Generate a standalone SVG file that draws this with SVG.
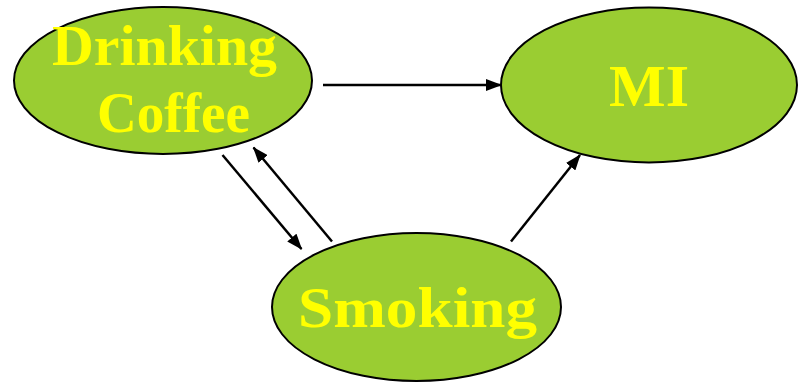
<svg xmlns="http://www.w3.org/2000/svg" width="798" height="383" viewBox="0 0 798 383">
<style>
.node ellipse{fill:#9ACD32;stroke:#000;stroke-width:2}
.node text{fill:#FFFF00;font-family:"Liberation Serif",serif;font-weight:bold;text-anchor:middle}
.edge{stroke:#000;stroke-width:2.5;fill:none;marker-end:url(#ah)}
</style>
<defs>
<marker id="ah" markerWidth="16" markerHeight="12" refX="15" refY="6" orient="auto" markerUnits="userSpaceOnUse">
<path d="M0,0 L16,6 L0,12 Z" fill="#000"/>
</marker>
</defs>
<rect width="798" height="383" fill="#fff"/>
<g id="coffee" class="node">
<ellipse cx="163" cy="80.5" rx="149" ry="73.5"/>
<text x="164.5" y="65" font-size="56" textLength="225" lengthAdjust="spacingAndGlyphs">Drinking</text>
<text x="173.5" y="132" font-size="56" textLength="153" lengthAdjust="spacingAndGlyphs">Coffee</text>
</g>
<g id="mi" class="node">
<ellipse cx="649" cy="85" rx="148" ry="77.5"/>
<text x="649" y="106" font-size="60" textLength="80" lengthAdjust="spacingAndGlyphs">MI</text>
</g>
<g id="smoking" class="node">
<ellipse cx="416.5" cy="307" rx="144.5" ry="74"/>
<text x="417.5" y="327" font-size="58" textLength="239" lengthAdjust="spacingAndGlyphs">Smoking</text>
</g>
<g id="connectors">
<line class="edge" x1="323" y1="85" x2="501" y2="85"/>
<line class="edge" x1="222.5" y1="155" x2="301.5" y2="249"/>
<line class="edge" x1="332" y1="241.5" x2="253.5" y2="147.5"/>
<line class="edge" x1="511" y1="241.5" x2="580" y2="155"/>
</g>
</svg>
